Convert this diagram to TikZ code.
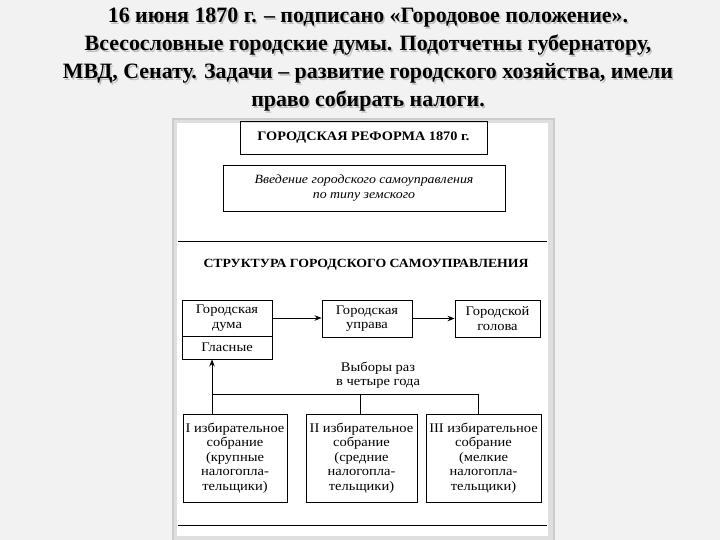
\documentclass[tikz,border=0pt]{standalone}
\usepackage{fontspec}
\setmainfont{Liberation Serif}
\newfontfamily\widefont[FakeStretch=1.1]{Liberation Serif}
\usetikzlibrary{arrows.meta}
\begin{document}
\begin{tikzpicture}[x=1pt,y=-1pt,
  box/.style={draw=black,line width=0.9pt,inner sep=0pt,align=center,font=\widefont\fontsize{13.2}{14.6}\selectfont},
  head/.style={align=center,font=\fontsize{21.9}{28}\selectfont\bfseries},
  arr/.style={line width=0.9pt,-{Stealth[length=7pt,width=5.5pt]}},
  ln/.style={line width=0.9pt}]
\useasboundingbox (0,0) rectangle (720,540);
\fill[gray!10] (0,0) rectangle (720,540);
% heading with shadow
\node[head,text=gray!50] at (369.5,61.5) {16 июня 1870 г. – подписано «Городовое положение».\\Всесословные городские думы. Подотчетны губернатору,\\МВД, Сенату. Задачи – развитие городского хозяйства, имели\\право собирать налоги.};
\node[head] (title) at (368,60) {16 июня 1870 г. – подписано «Городовое положение».\\Всесословные городские думы. Подотчетны губернатору,\\МВД, Сенату. Задачи – развитие городского хозяйства, имели\\право собирать налоги.};
% scanned picture frame
\fill[gray!40] (172,118) rectangle (555,540);
\fill[gray!25] (174,120) rectangle (553,540);
\fill[white] (177,123) rectangle (548,536);
\draw[ln] (178,241) -- (547,241);
\draw[ln] (178,525) -- (547,525);
% top boxes
\node[box,minimum width=247pt,minimum height=33pt,font=\widefont\fontsize{13}{14}\selectfont\bfseries] (ref) at (363.5,138) {ГОРОДСКАЯ РЕФОРМА 1870 г.};
\node[box,minimum width=282pt,minimum height=46pt,font=\widefont\fontsize{12.6}{15}\selectfont\itshape] (intro) at (364,188) {Введение городского самоуправления\\по типу земского};
\node[font=\widefont\fontsize{12.5}{14}\selectfont\bfseries] (struct) at (366,265) {СТРУКТУРА ГОРОДСКОГО САМОУПРАВЛЕНИЯ};
% structure boxes
\node[box,minimum width=90pt,minimum height=36pt] (duma) at (227,318) {Городская\\дума};
\node[box,minimum width=90pt,minimum height=23pt] (glas) at (227,347.5) {Гласные};
\node[box,minimum width=90pt,minimum height=37pt] (uprava) at (367,318.5) {Городская\\управа};
\node[box,minimum width=85pt,minimum height=37pt] (golova) at (497.5,318.5) {Городской\\голова};
\draw[arr] (duma.east) -- (uprava.west |- duma.east);
\draw[arr] (uprava.east) -- (golova.west);
\node[align=center,font=\widefont\fontsize{13.2}{14.5}\selectfont] (vybory) at (378,375) {Выборы раз\\в четыре года};
% assemblies
\node[box,minimum width=104pt,minimum height=88pt] (s1) at (235,458) {I избирательное\\собрание\\(крупные\\налогопла-\\тельщики)};
\node[box,minimum width=111pt,minimum height=88pt] (s2) at (361.5,458) {II избирательное\\собрание\\(средние\\налогопла-\\тельщики)};
\node[box,minimum width=115pt,minimum height=88pt] (s3) at (483.5,458) {III избирательное\\собрание\\(мелкие\\налогопла-\\тельщики)};
\coordinate (h1) at (212,394);
\coordinate (h2) at (360,394);
\coordinate (h3) at (478,394);
\draw[ln] (s1.north -| h1) -- (h1) -- (h3) -- (s3.north -| h3);
\draw[ln] (h2) -- (s2.north -| h2);
\draw[arr] (h1) -- (glas.south -| h1);
\end{tikzpicture}
\end{document}
